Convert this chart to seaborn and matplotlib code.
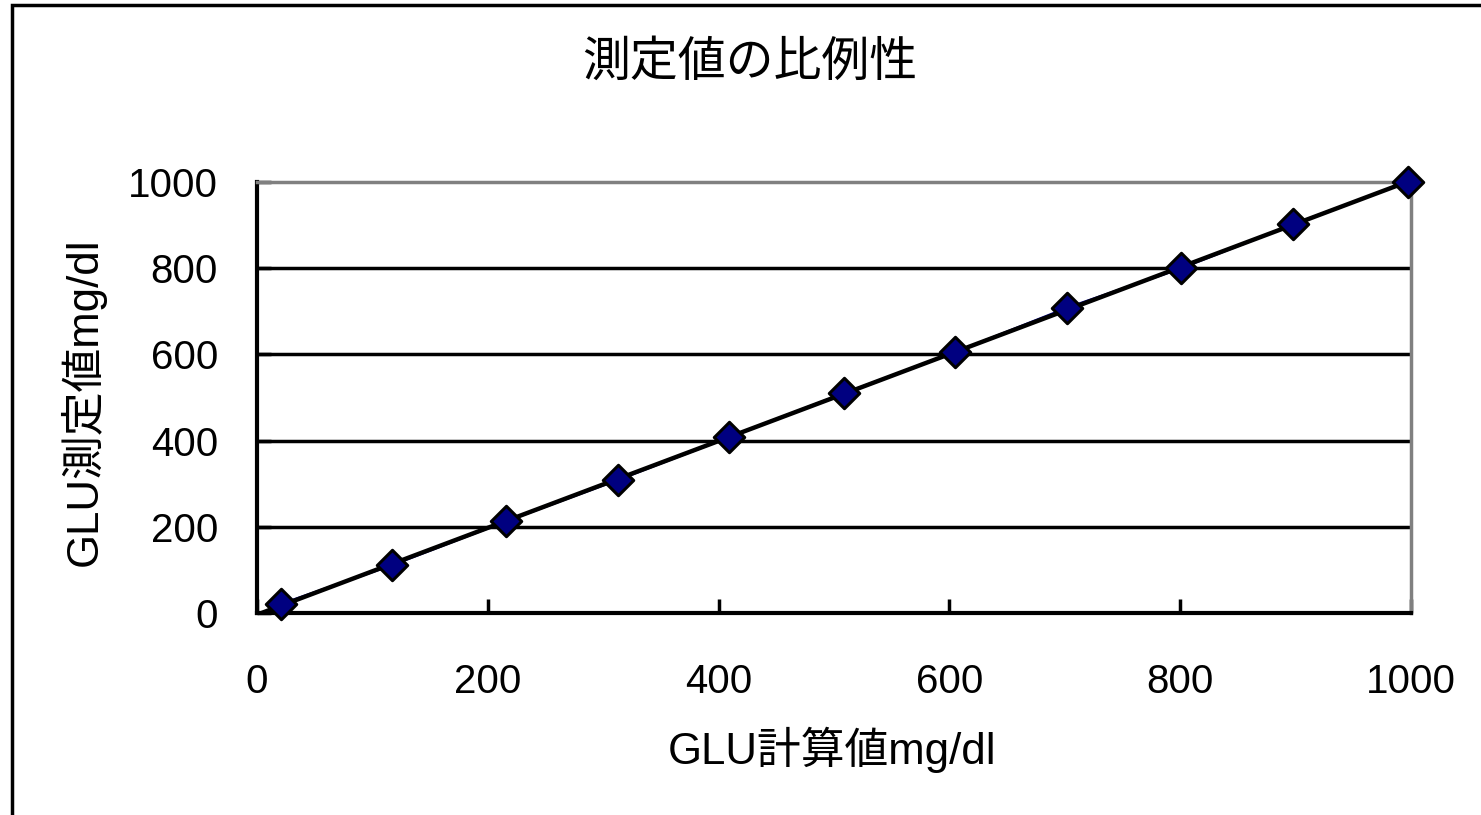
import numpy as np
import pandas as pd
import matplotlib
matplotlib.use("Agg")
import matplotlib.pyplot as plt
from matplotlib.patches import Rectangle
import seaborn as sns

# Calculated vs measured glucose values (mg/dl)
calc_values = [21, 117, 216, 313, 409, 509, 605, 702, 801, 898, 997]
measured_values = [21, 111, 213, 309, 408, 510, 605, 708, 800, 902, 1000]
x_ticks = [0, 200, 400, 600, 800, 1000]
y_ticks = [0, 200, 400, 600, 800, 1000]

title = "測定値の比例性"
x_label = "GLU計算値mg/dl"
y_label = "GLU測定値mg/dl"

sns.set_theme(style="white")
plt.rcParams["font.family"] = ["Liberation Sans", "Noto Sans CJK JP", "DejaVu Sans"]

df = pd.DataFrame({"calc": calc_values, "measured": measured_values})

W, H = 1481, 815
fig = plt.figure(figsize=(W / 100, H / 100), dpi=100)
fig.patch.set_facecolor("white")

# outer chart frame (left and top edges visible)
fig.add_artist(Rectangle((12 / W, -0.2), 1.5, (H - 5) / H + 0.2,
                         transform=fig.transFigure, fill=False,
                         edgecolor="black", linewidth=2.5, clip_on=False))

ax = fig.add_axes([257 / W, 1 - 613 / H, (1411 - 257) / W, (613 - 182) / H])
ax.set_facecolor("white")

# data series line
sns.lineplot(data=df, x="calc", y="measured", ax=ax, color="#000080",
             linewidth=1.8, zorder=3)

# linear trend line across the whole x range
sns.regplot(data=df, x="calc", y="measured", ax=ax, scatter=False, ci=None,
            truncate=False, color="black", line_kws={"linewidth": 3.2, "zorder": 4})

# data point markers
sns.scatterplot(data=df, x="calc", y="measured", ax=ax, marker="D", s=240,
                color="#000080", edgecolor="black", linewidth=2.2, zorder=5,
                clip_on=False)

ax.set_xlim(0, 1000)
ax.set_ylim(0, 1000)
ax.set_xticks(x_ticks)
ax.set_yticks(y_ticks)
ax.set_xticklabels([str(t) for t in x_ticks])
ax.set_yticklabels([str(t) for t in y_ticks])

for y in y_ticks[1:-1]:
    ax.axhline(y, color="black", linewidth=2.5, zorder=1)

for side in ["top", "right"]:
    ax.spines[side].set_color("#808080")
    ax.spines[side].set_linewidth(2.5)
for side in ["left", "bottom"]:
    ax.spines[side].set_color("black")
    ax.spines[side].set_linewidth(3)
    ax.spines[side].set_visible(True)

ax.tick_params(axis="both", direction="in", length=10, width=2.5,
               color="black", labelsize=29, labelcolor="black")
ax.tick_params(axis="x", pad=36, bottom=True)
ax.tick_params(axis="y", pad=28, left=True)

ax.set_xlabel(x_label, fontsize=31.5, color="black", va="center")
ax.set_ylabel(y_label, fontsize=31.5, color="black", va="center")
ax.xaxis.set_label_coords(0.498, -0.318)
ax.yaxis.set_label_coords(-0.151, 0.49)
fig.text(750 / W, 1 - 63 / H, title, fontsize=34.5, ha="center", va="center",
         color="black")

fig.savefig("out.png", dpi=100, facecolor="white")
